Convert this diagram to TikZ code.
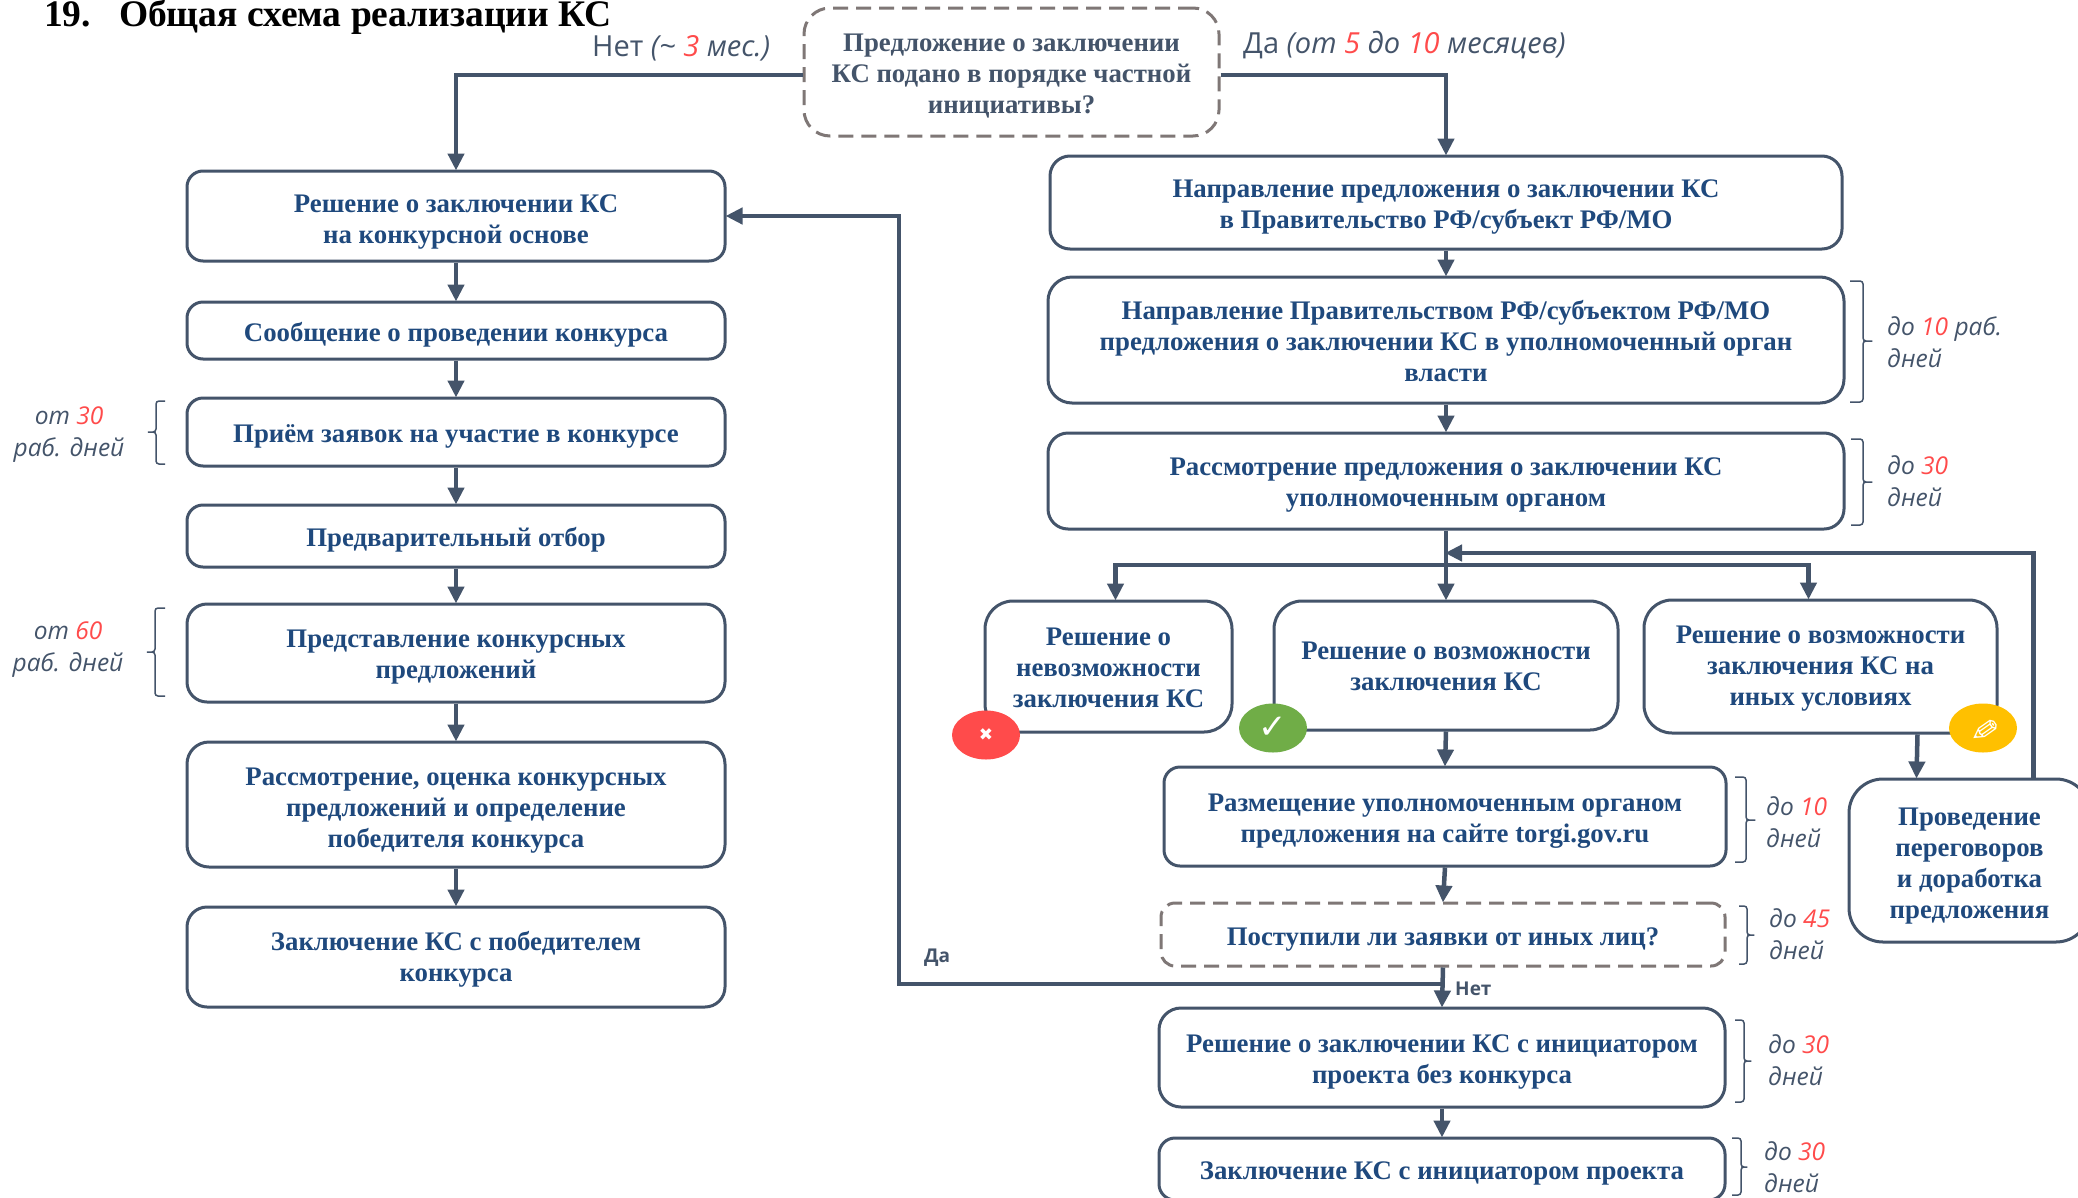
\documentclass[tikz,border=0pt]{standalone}
\usepackage{fontspec}
\setmainfont{Liberation Serif}
\newfontfamily\lblfont{Open Sans}
\newfontfamily\symfont{DejaVu Sans}
\usetikzlibrary{arrows.meta,shapes.geometric}
\definecolor{slate}{HTML}{44546A}
\definecolor{navy}{HTML}{1F497D}
\definecolor{dashgray}{HTML}{7F7776}
\definecolor{numred}{HTML}{FF4B4B}
\definecolor{okgreen}{HTML}{70AD47}
\definecolor{warnyellow}{HTML}{FFC000}
\newcommand{\num}[1]{\textcolor{numred}{#1}}
\newcommand{\bracketmark}[6]{\draw[bracketline] (#1,#4) -- (#2,#4) -- (#2,#5) -- (#3,#5) -- (#2,#5) -- (#2,#6) -- (#1,#6);}
\tikzset{
  x=1pt,y=-1pt,
  lift/.style={execute at begin node={\rule{0pt}{#1pt}}},
  box/.style={draw=slate,line width=3pt,rounded corners=#1,align=center,text=navy,inner sep=0pt,
    font=\fontsize{26.8}{31}\selectfont\bfseries,lift=27},
  box/.default=16pt,
  qbox/.style={box=#1,draw=dashgray,dash pattern=on 15pt off 8pt},
  qbox/.default=22pt,
  conn/.style={draw=slate,line width=4.5pt,-{Triangle[length=17pt,width=16pt]},shorten >=-1pt},
  bracketline/.style={draw=slate,line width=1.5pt,rounded corners=3pt},
  lab/.style={text=slate,align=left,anchor=west,inner sep=0pt,font=\fontsize{24.5}{32}\selectfont\lblfont\itshape},
  labbig/.style={lab,font=\fontsize{29}{32}\selectfont\lblfont\itshape},
  labc/.style={lab,align=center,anchor=center},
  small/.style={text=slate,inner sep=0pt,font=\fontsize{19}{22}\selectfont\lblfont\bfseries},
  badge/.style={ellipse,draw=none,inner sep=0pt,minimum width=68pt,minimum height=49pt,text=white},
}
\begin{document}
\begin{tikzpicture}
\useasboundingbox (0,0) rectangle (2078,1197);
\clip (0,0) rectangle (2078,1197);
\fill[white] (0,0) rectangle (2078,1197);

\node[anchor=base west,inner sep=0pt,font=\fontsize{37.5}{40}\selectfont\bfseries] (title) at (44,26) {19.\hspace{28pt}Общая схема реализации КС};

\node[qbox=26pt,text=slate,minimum width=415pt,minimum height=128pt,lift=87] (top) at (1011.5,72) {Предложение о заключении\\КС подано в порядке частной\\инициативы?};
\node[labbig] (no) at (592,48) {{\upshape Нет} (\textasciitilde{} \num{3} мес.)};
\node[labbig] (yes) at (1243,45) {{\upshape Да} (от \num{5} до \num{10} месяцев)};

% left column
\node[box,minimum width=538pt,minimum height=90pt,lift=60] (a1) at (456,216) {Решение о заключении КС\\на конкурсной основе};
\node[box,minimum width=538pt,minimum height=57pt] (a2) at (456,330.5) {Сообщение о проведении конкурса};
\node[box,minimum width=538pt,minimum height=68pt] (a3) at (456,432) {Приём заявок на участие в конкурсе};
\node[box,minimum width=538pt,minimum height=62pt] (a4) at (456,536) {Предварительный отбор};
\node[box=20pt,minimum width=538pt,minimum height=98pt,lift=57] (a5) at (456,653) {Представление конкурсных\\предложений};
\node[box=22pt,minimum width=538pt,minimum height=125pt,lift=92] (a6) at (456,804.5) {Рассмотрение, оценка конкурсных\\предложений и определение\\победителя конкурса};
\node[box=20pt,minimum width=538pt,minimum height=100pt,lift=54] (a7) at (456,957) {Заключение КС с победителем\\конкурса};

% right column
\node[box=20pt,minimum width=792pt,minimum height=93pt,lift=58] (b1) at (1446,202.5) {Направление предложения о заключении КС\\в Правительство РФ/субъект РФ/МО};
\node[box=24pt,minimum width=796pt,minimum height=126pt,lift=84] (b2) at (1446,340) {Направление Правительством РФ/субъектом РФ/МО\\предложения о заключении КС в уполномоченный орган\\власти};
\node[box=20pt,minimum width=796pt,minimum height=96pt,lift=57] (b3) at (1446,481) {Рассмотрение предложения о заключении КС\\уполномоченным органом};

\node[box=28pt,minimum width=247pt,minimum height=131pt,lift=83] (c1) at (1108.5,666.5) {Решение о\\невозможности\\заключения КС};
\node[box=28pt,minimum width=344pt,minimum height=129pt,lift=51] (c2) at (1446,665.5) {Решение о возможности\\заключения КС};
\node[box=28pt,minimum width=353pt,minimum height=133pt,lift=84] (c3) at (1820.5,666.5) {Решение о возможности\\заключения КС на\\иных условиях};

\node[box,minimum width=562pt,minimum height=99pt,lift=57] (d1) at (1445,816.5) {Размещение уполномоченным органом\\предложения на сайте torgi.gov.ru};
\node[box=34pt,minimum width=241pt,minimum height=163pt,lift=122] (d2) at (1969.5,860.5) {Проведение\\переговоров\\и доработка\\предложения};
\node[qbox=14pt,minimum width=564pt,minimum height=63pt] (d3) at (1443,934.5) {Поступили ли заявки от иных лиц?};
\node[box=22pt,minimum width=566pt,minimum height=99pt,lift=57] (e1) at (1442,1057.5) {Решение о заключении КС с инициатором\\проекта без конкурса};
\node[box,minimum width=566pt,minimum height=62pt] (e2) at (1442,1169) {Заключение КС с инициатором проекта};

% badges
\node[badge,fill=numred,font=\fontsize{17}{17}\selectfont\symfont] (bad) at (986,735) {\raisebox{-3pt}{✖}};
\node[badge,fill=okgreen,font=\fontsize{34}{34}\selectfont\symfont] (good) at (1273,728) {✓};
\node[badge,fill=warnyellow,font=\fontsize{34}{34}\selectfont\symfont] (edit) at (1983,728) {\rotatebox{215}{✏}};

% connectors
\coordinate (split) at (1446,565);
\coordinate (back) at (1446,553);
\coordinate (merge) at (1443,984);
\coordinate (ret) at (899,984);

\draw[conn] ([yshift=-3pt]top.west) -| (a1.north);
\draw[conn] ([yshift=-3pt]top.east) -| (b1.north);
\draw[conn] (a1.south) -- (a2.north);
\draw[conn] (a2.south) -- (a3.north);
\draw[conn] (a3.south) -- (a4.north);
\draw[conn] (a4.south) -- (a5.north);
\draw[conn] (a5.south) -- (a6.north);
\draw[conn] (a6.south) -- (a7.north);
\draw[conn] (b1.south) -- (b2.north);
\draw[conn] (b2.south) -- (b3.north);
\draw[conn] (b3.south) -- (c2.north);
\draw[conn] (split) -| ([xshift=7pt]c1.north);
\draw[conn] (split) -| ([xshift=-12pt]c3.north);
\draw[conn] ([xshift=64pt]d2.north) |- (back);
\draw[conn] (c2.south) -- (d1.north);
\draw[conn] ([xshift=97pt]c3.south) -- ([xshift=-53pt]d2.north);
\draw[conn] (d1.south) -- (d3.north);
\draw[conn] (d3.south) -- (e1.north);
\draw[conn] (merge) -- (ret) |- (a1.east);
\draw[conn] (e1.south) -- (e2.north);

\node[small,anchor=west] (da) at (924,958) {Да};
\node[small,anchor=west] (net) at (1455,989) {Нет};

% brackets
\bracketmark{165}{156}{146}{401}{432}{464}
\bracketmark{165}{155}{145}{608}{652}{696}
\bracketmark{1850}{1863}{1874}{281}{341}{402}
\bracketmark{1851}{1863}{1874}{439}{482}{525}
\bracketmark{1735}{1746}{1757}{777}{820}{862}
\bracketmark{1739}{1747}{1756}{906}{935}{964}
\bracketmark{1735}{1744}{1753}{1020}{1061}{1102}
\bracketmark{1732}{1741}{1749}{1138}{1167}{1195}

% durations
\node[labc] (t1) at (69,435) {от \num{30}\\раб. дней};
\node[labc] (t2) at (68,650) {от \num{60}\\раб. дней};
\node[lab] (t3) at (1887,342) {до \num{10} раб.\\дней};
\node[lab] (t4) at (1887,481) {до \num{30}\\дней};
\node[lab] (t5) at (1766,822) {до \num{10}\\дней};
\node[lab] (t6) at (1769,934) {до \num{45}\\дней};
\node[lab] (t7) at (1768,1060.5) {до \num{30}\\дней};
\node[lab] (t8) at (1764,1167) {до \num{30}\\дней};
\end{tikzpicture}
\end{document}
